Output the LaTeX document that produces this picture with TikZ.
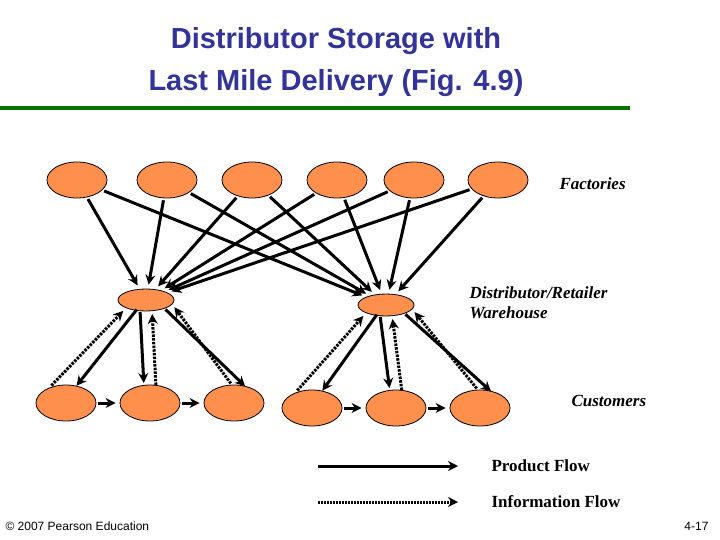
\documentclass[tikz,border=0pt]{standalone}
\usepackage{fontspec}
\setmainfont{Liberation Serif}
\newfontfamily\arialf{Liberation Sans}
\usetikzlibrary{arrows.meta, calc, shapes.geometric}

\tikzset{
  site/.style={ellipse, draw=black, thick, fill=orange!75!red!70!white, minimum width=60pt, minimum height=36pt, inner sep=0pt},
  ware/.style={site, minimum width=56pt, minimum height=22pt},
  prod/.style={line width=3pt, -{Stealth[length=10pt,width=10pt]}, shorten >=4pt, shorten <=2pt},
  info/.style={prod, dash pattern=on 2.5pt off 1.2pt},
  tag/.style={font=\bfseries\itshape\fontsize{17}{20}\selectfont, align=left, anchor=west}
}
\definecolor{ttl}{RGB}{51,51,153}

\begin{document}
\begin{tikzpicture}[x=1pt, y=-1pt]
\useasboundingbox (0,0) rectangle (720,540);
% title
\node[font=\arialf\bfseries\fontsize{29}{42}\selectfont, text=ttl, align=center] (title) at (336,62) {Distributor Storage with\\Last Mile Delivery (Fig. 4.9)};
\draw[line width=3.5pt, draw=green!45!black] (0,108) -- (630,108);
% factories
\foreach \x [count=\i] in {77,167,252,337,414,498}
  \node[site] (f\i) at (\x,180) {};
% warehouses
\node[ware] (w1) at (146,300) {};
\node[ware] (w2) at (386,305) {};
% customers
\foreach \x [count=\i] in {66,150,234}
  \node[site] (c\i) at (\x,403) {};
\foreach \x [count=\i from 4] in {312,396,480}
  \node[site] (c\i) at (\x,408) {};
% factory to warehouse
\foreach \i in {1,...,6} {
  \draw[prod] (f\i) -- (w1);
  \draw[prod] (f\i) -- (w2);
}
% warehouse to customers
\foreach \w/\a/\b/\c in {w1/c1/c2/c3, w2/c4/c5/c6} {
  \draw[prod] ($(\w)+(-8,8)$) -- ($(\a)+(8,-14)$);
  \draw[info] ($(\a)+(-16,-16)$) -- ($(\w)+(-20,8)$);
  \draw[prod] ($(\w)+(-6,10)$) -- ($(\b)+(-6,-16)$);
  \draw[info] ($(\b)+(6,-16)$) -- ($(\w)+(6,10)$);
  \draw[prod] ($(\w)+(18,8)$) -- ($(\c)+(14,-14)$);
  \draw[info] ($(\c)+(-2,-18)$) -- ($(\w)+(26,4)$);
  \draw[prod] (\a) -- (\b);
  \draw[prod] (\b) -- (\c);
}
% labels
\node[tag] (lf) at (556,184) {Factories};
\node[tag] (lw) at (466,303) {Distributor/Retailer\\Warehouse};
\node[tag] (lc) at (568,401) {Customers};
% legend
\coordinate (p0) at (318,466); \coordinate (p1) at (462,466);
\coordinate (i0) at (318,502); \coordinate (i1) at (462,502);
\draw[prod, shorten <=0pt] (p0) -- (p1);
\draw[info, dash pattern=on 2pt off 1pt, shorten <=0pt] (i0) -- (i1);
\node[font=\bfseries\fontsize{17}{20}\selectfont, anchor=west] (lp) at (488,466) {Product Flow};
\node[font=\bfseries\fontsize{17}{20}\selectfont, anchor=west] (li) at (488,502) {Information Flow};
% footer
\node[font=\arialf\fontsize{12}{14}\selectfont, anchor=west] (copy) at (2,526) {\textcopyright{} 2007 Pearson Education};
\node[font=\arialf\fontsize{12}{14}\selectfont, anchor=east] (pg) at (712,526) {4-17};
\end{tikzpicture}
\end{document}
